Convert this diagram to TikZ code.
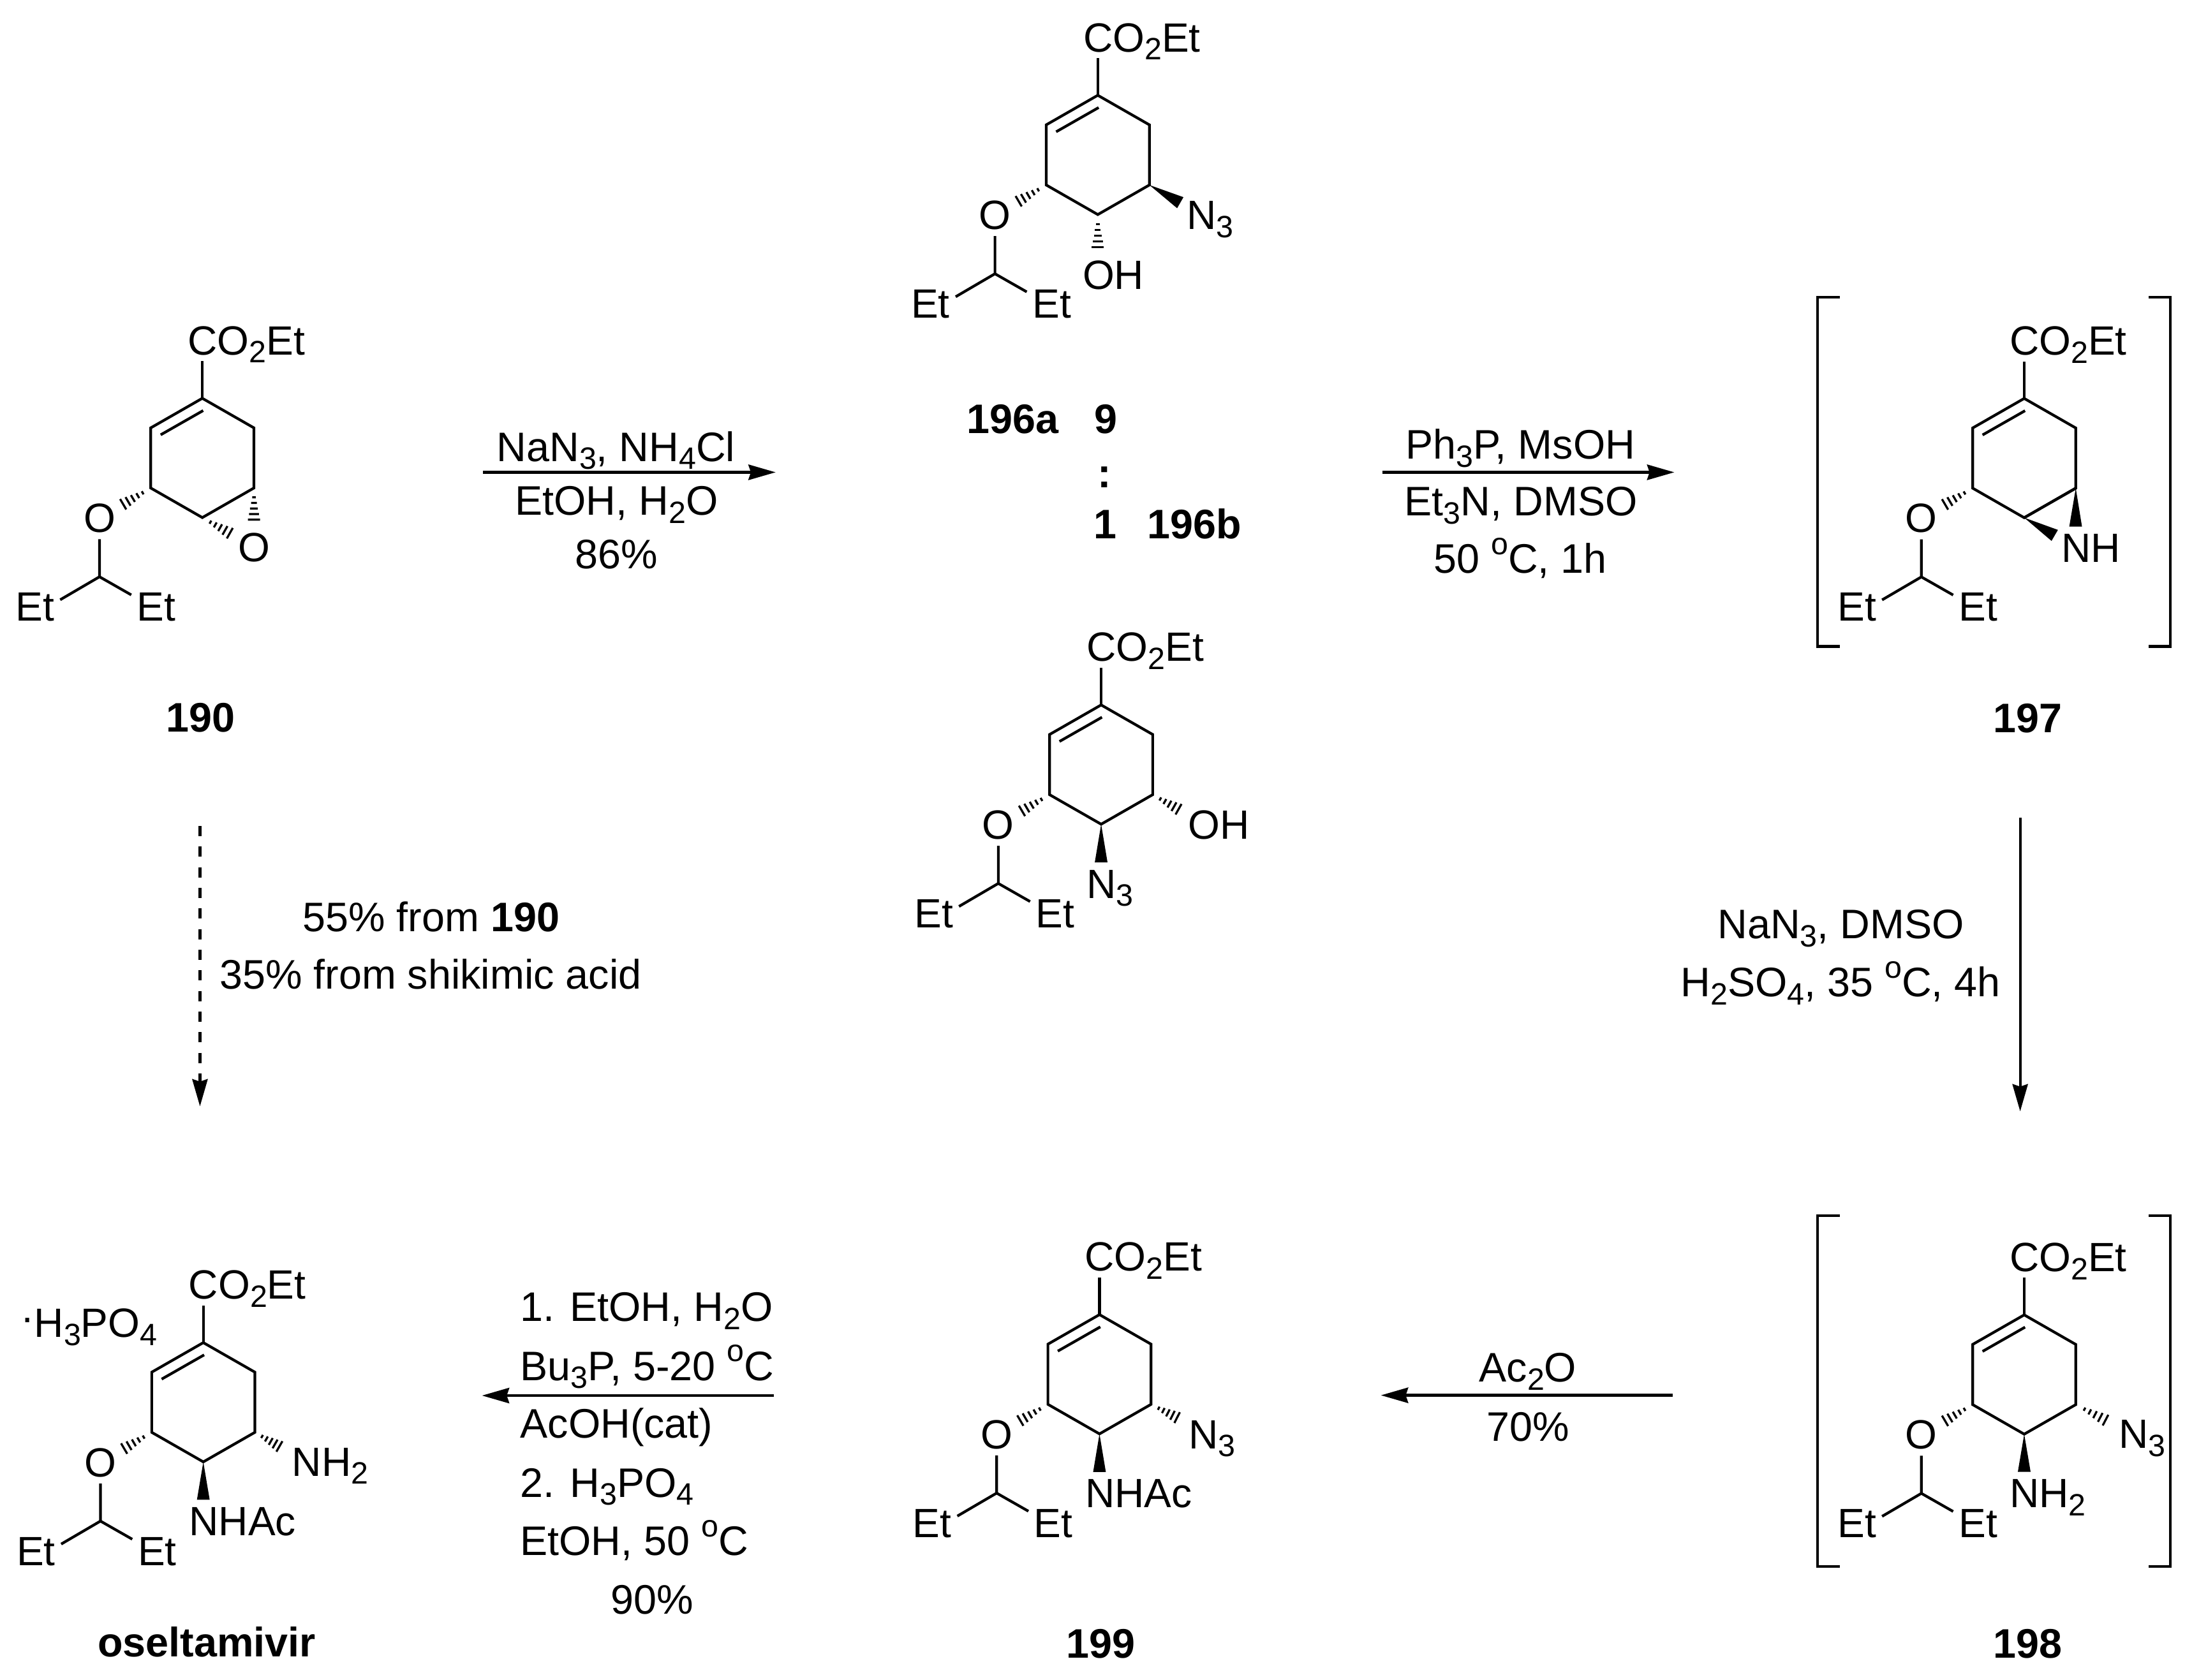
\documentclass[tikz,border=0pt]{standalone}
\usepackage{fontspec}
\setmainfont{Liberation Sans}
\usetikzlibrary{arrows.meta,calc}

\newcommand{\csub}[1]{\raisebox{-.2em}{\fontsize{12.6}{12.6}\selectfont #1}}
\newcommand{\csup}[1]{\raisebox{.45em}{\fontsize{12.6}{12.6}\selectfont #1}}

\tikzset{
	bond/.style={line width=1.1pt},
	hashline/.style={line width=.85pt},
	atom/.style={font=\fontsize{16.7}{16.7}\selectfont,inner sep=0pt,anchor=base west},
	txt/.style={font=\fontsize{16.85}{16.85}\selectfont,inner sep=0pt,anchor=base},
	txtl/.style={font=\fontsize{16.85}{16.85}\selectfont,inner sep=0pt,anchor=base west},
	rxn/.style={line width=1.1pt,-{Stealth[length=3.9mm,width=2.2mm,inset=.35mm]}},
	rxnd/.style={rxn,dash pattern=on 1.46mm off 1.5mm}
}

% hashed bond, narrow end at #1
\newcommand{\hashbond}[2]{
	\foreach \t in {.25,.4,.55,.7,.85,1}{
		\pgfmathsetmacro{\hw}{\t*2.9}
		\coordinate (hp) at ($(#1)!\t!(#2)$);
		\draw[hashline] ($(hp)!\hw pt!90:(#2)$) -- ($(hp)!\hw pt!-90:(#2)$);
	}
}
% solid wedge, point at #1
\newcommand{\wedgebond}[2]{
	\fill (#1) -- ($(#2)!2.6pt!90:(#1)$) -- ($(#2)!2.6pt!-90:(#1)$) -- cycle;
}
% cyclohexene ring with ester and pentyl ether, #1 = prefix, top atom at (#2,#3)
\newcommand{\ringmol}[3]{
	\coordinate (#11) at (#2,#3);
	\coordinate (#12) at ($(#11)+(-37,21.2)$);
	\coordinate (#13) at ($(#11)+(-37,64.4)$);
	\coordinate (#14) at ($(#11)+(0,85.6)$);
	\coordinate (#15) at ($(#11)+(37,64.4)$);
	\coordinate (#16) at ($(#11)+(37,21.2)$);
	\draw[bond] (#11) -- (#12) -- (#13) -- (#14) -- (#15) -- (#16) -- cycle;
	\coordinate (#1d) at ($(#11)+(-29.9,26.2)$);
	\coordinate (#1e) at ($(#11)+(.6,8.8)$);
	\draw[bond] (#1d) -- (#1e);
	\coordinate (#1s) at ($(#11)+(0,-26.6)$);
	\draw[bond] (#11) -- (#1s);
	\node[atom] (#1co) at ($(#11)+(-10.8,-31.3)$) {CO\csub{2}Et};
	\coordinate (#1c) at ($(#13)+(-36.8,63.7)$);
	\node[atom,anchor=center] (#1o) at ($(#1c)+(0,-42)$) {O};
	\coordinate (#1t) at ($(#1c)+(0,-27)$);
	\coordinate (#1l) at ($(#1c)+(-28.2,16.5)$);
	\coordinate (#1r) at ($(#1c)+(22.8,13)$);
	\draw[bond] (#1t) -- (#1c) -- (#1l);
	\draw[bond] (#1c) -- (#1r);
	\node[atom] (#1el) at ($(#1c)+(-60.5,31.7)$) {Et};
	\node[atom] (#1er) at ($(#1c)+(26.5,31.7)$) {Et};
	\coordinate (#1h) at ($(#1o)+(13.5,-8)$);
	\hashbond{#13}{#1h}
}

\begin{document}
\begin{tikzpicture}[x=.2mm,y=-.2mm]
	\useasboundingbox (0,0) rectangle (1568,1205.5);

	% 190
	\ringmol{a}{145.2}{285.9}
	\node[atom,anchor=center] (aepo) at (182.3,393) {O};
	\coordinate (aha) at (182.3,377);
	\coordinate (ahb) at (168.4,384.7);
	\hashbond{a5}{aha}
	\hashbond{a4}{ahb}
	\node[txt] (lab190) at (144,525.5) {\textbf{190}};

	% 196a
	\ringmol{b}{787.8}{68.4}
	\coordinate (bwn) at (847,145.5);
	\coordinate (bhoh) at (787.8,181.5);
	\wedgebond{b5}{bwn}
	\hashbond{b4}{bhoh}
	\node[atom] (bazide) at (851.4,164.8) {N\csub{3}};
	\node[atom] (boh) at (776.6,207.7) {OH};

	% ratio
	\node[txt] (lab196a) at (726.8,311) {\textbf{196a}};
	\node[txt] (ratnine) at (793.8,311) {\textbf{9}};
	\node[txt] (ratcolon) at (792.8,350) {\textbf{:}};
	\node[txt] (ratone) at (793.3,386.5) {\textbf{1}};
	\node[txt] (lab196b) at (857.3,386.5) {\textbf{196b}};

	% 196b
	\ringmol{c}{790.2}{506}
	\coordinate (choh) at (849,582.7);
	\coordinate (cwn) at (790.2,619);
	\hashbond{c5}{choh}
	\wedgebond{c4}{cwn}
	\node[atom] (coh) at (852.2,602.1) {OH};
	\node[atom] (cazide) at (779.4,644.6) {N\csub{3}};

	% 197
	\ringmol{d}{1452.6}{286}
	\coordinate (dwa) at (1489.5,378);
	\coordinate (dwb) at (1474.5,384.3);
	\wedgebond{d5}{dwa}
	\wedgebond{d4}{dwb}
	\draw[bond] (d4) -- (d5);
	\node[atom] (dnh) at (1479.1,403.4) {NH};
	\draw[bond] (1320.3,213.2) -- (1304.3,213.2) -- (1304.3,464) -- (1320.3,464);
	\draw[bond] (1542,213.2) -- (1557.6,213.2) -- (1557.6,464) -- (1542,464);
	\node[txt] (lab197) at (1455,526) {\textbf{197}};

	% 198
	\ringmol{e}{1452.6}{943.8}
	\coordinate (ehn) at (1514.7,1021.3);
	\coordinate (ewn) at (1452.6,1056.4);
	\hashbond{e5}{ehn}
	\wedgebond{e4}{ewn}
	\node[atom] (eazide) at (1520.3,1039.6) {N\csub{3}};
	\node[atom] (enh) at (1441.8,1081.9) {NH\csub{2}};
	\draw[bond] (1320.3,872.6) -- (1304.3,872.6) -- (1304.3,1124.4) -- (1320.3,1124.4);
	\draw[bond] (1542,872.6) -- (1557.6,872.6) -- (1557.6,1124.4) -- (1542,1124.4);
	\node[txt] (lab198) at (1455,1190) {\textbf{198}};

	% 199
	\ringmol{f}{789}{943.6}
	\coordinate (fhn) at (848,1019.2);
	\coordinate (fwn) at (789,1056.6);
	\hashbond{f5}{fhn}
	\wedgebond{f4}{fwn}
	\node[atom] (fazide) at (852.6,1039.7) {N\csub{3}};
	\node[atom] (fnhac) at (778.4,1082) {NHAc};
	\node[txt] (lab199) at (790,1190) {\textbf{199}};

	% oseltamivir
	\ringmol{g}{145.9}{963.7}
	\coordinate (ghn) at (203.6,1040);
	\coordinate (gwn) at (145.9,1076.5);
	\hashbond{g5}{ghn}
	\wedgebond{g4}{gwn}
	\node[atom] (gnh) at (209.2,1059.4) {NH\csub{2}};
	\node[atom] (gnhac) at (135.4,1102) {NHAc};
	\node[atom] (gsalt) at (14.5,959.9) {\raisebox{.15em}{·}H\csub{3}PO\csub{4}};
	\node[txt] (labosel) at (148.4,1189) {\textbf{oseltamivir}};

	% arrows
	\coordinate (ra) at (346.7,339);
	\coordinate (rb) at (556.6,339);
	\draw[rxn] (ra) -- (rb);
	\node[txt] (ratop) at (442,331) {NaN\csub{3}, NH\csub{4}Cl};
	\node[txt] (ramid) at (442.4,369.6) {EtOH, H\csub{2}O};
	\node[txt] (rabot) at (442.2,408) {86\%};

	\coordinate (rc) at (992,339);
	\coordinate (rd) at (1201.5,339);
	\draw[rxn] (rc) -- (rd);
	\node[txt] (rbtop) at (1091,329.6) {Ph\csub{3}P, MsOH};
	\node[txt] (rbmid) at (1091.5,370) {Et\csub{3}N, DMSO};
	\node[txt] (rbbot) at (1091,411.5) {50 \csup{o}C, 1h};

	\coordinate (re) at (1449.7,587);
	\coordinate (rf) at (1449.7,797.7);
	\draw[rxn] (re) -- (rf);
	\node[txt] (rctop) at (1321,673.5) {NaN\csub{3}, DMSO};
	\node[txt] (rcbot) at (1320.8,715.5) {H\csub{2}SO\csub{4}, 35 \csup{o}C, 4h};

	\coordinate (rg) at (1200.2,1001.5);
	\coordinate (rh) at (991,1001.5);
	\draw[rxn] (rg) -- (rh);
	\node[txt] (rdtop) at (1096.4,991.7) {Ac\csub{2}O};
	\node[txt] (rdbot) at (1096.6,1034.5) {70\%};

	\coordinate (ri) at (555.5,1001.7);
	\coordinate (rj) at (345.9,1001.7);
	\draw[rxn] (ri) -- (rj);
	\node[txtl] (reone) at (373,948.3) {1. EtOH, H\csub{2}O};
	\node[txtl] (retwo) at (373,990.7) {Bu\csub{3}P, 5-20 \csup{o}C};
	\node[txtl] (rethree) at (373,1032.2) {AcOH(cat)};
	\node[txtl] (refour) at (373,1074.5) {2. H\csub{3}PO\csub{4}};
	\node[txtl] (refive) at (373,1116.2) {EtOH, 50 \csup{o}C};
	\node[txt] (resix) at (467.8,1158.7) {90\%};

	\coordinate (rk) at (143.5,592.9);
	\coordinate (rl) at (143.5,794.1);
	\draw[rxnd] (rk) -- (rl);
	\node[txt] (rftop) at (309.4,668.4) {55\% from \textbf{190}};
	\node[txt] (rfbot) at (309,709.8) {35\% from shikimic acid};
\end{tikzpicture}
\end{document}
